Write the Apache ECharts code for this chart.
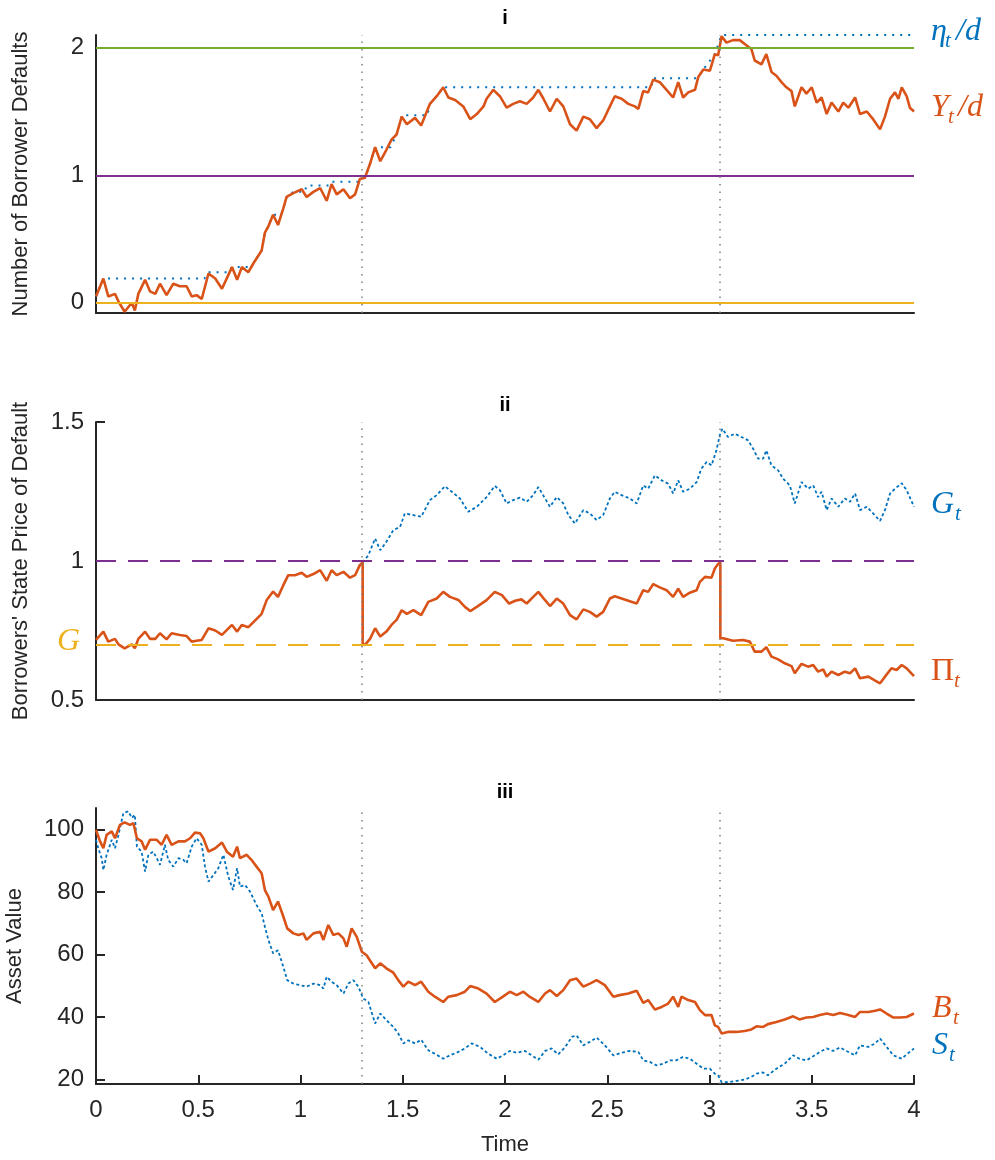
<!DOCTYPE html>
<html>
<head>
<meta charset="utf-8">
<title>Defaults, state price and asset value</title>
<script src="https://cdn.jsdelivr.net/npm/echarts@6.0.0/dist/echarts.min.js"></script>
<style>
  html, body { margin: 0; padding: 0; background: #fff; }
  #container { width: 995px; height: 1160px; }
</style>
</head>
<body>
<div id="container"></div>
<script>
// ---- paths, as [time, value] ----
// panel i : Y_t/d and its running max eta_t/d
const yPath = [[0,0.05],[0.036,0.19],[0.06,0.05],[0.093,0.07],[0.11,0.01],[0.14,-0.07],[0.175,0],[0.19,-0.06],[0.207,0.07],[0.24,0.18],[0.264,0.09],[0.29,0.07],[0.313,0.15],[0.345,0.06],[0.378,0.15],[0.41,0.13],[0.443,0.13],[0.468,0.05],[0.492,0.06],[0.517,0.03],[0.55,0.23],[0.583,0.19],[0.616,0.11],[0.665,0.28],[0.69,0.18],[0.713,0.28],[0.745,0.24],[0.77,0.31],[0.81,0.41],[0.826,0.55],[0.843,0.60],[0.866,0.69],[0.89,0.61],[0.916,0.74],[0.932,0.83],[0.965,0.86],[1.006,0.89],[1.03,0.83],[1.063,0.87],[1.096,0.90],[1.128,0.80],[1.152,0.93],[1.177,0.85],[1.21,0.89],[1.242,0.82],[1.267,0.85],[1.29,0.97],[1.315,0.98],[1.34,1.09],[1.365,1.22],[1.39,1.11],[1.42,1.20],[1.445,1.28],[1.47,1.32],[1.495,1.46],[1.52,1.40],[1.56,1.45],[1.59,1.39],[1.633,1.56],[1.666,1.62],[1.698,1.69],[1.723,1.61],[1.756,1.59],[1.796,1.54],[1.83,1.44],[1.862,1.48],[1.895,1.54],[1.91,1.60],[1.943,1.67],[1.975,1.62],[2.008,1.53],[2.04,1.56],[2.073,1.58],[2.106,1.56],[2.138,1.61],[2.163,1.67],[2.188,1.60],[2.22,1.50],[2.253,1.60],[2.285,1.54],[2.318,1.40],[2.35,1.35],[2.383,1.46],[2.415,1.44],[2.448,1.37],[2.48,1.43],[2.513,1.54],[2.537,1.62],[2.57,1.60],[2.603,1.56],[2.635,1.54],[2.652,1.52],[2.676,1.66],[2.7,1.65],[2.725,1.75],[2.757,1.73],[2.79,1.67],[2.822,1.61],[2.847,1.73],[2.871,1.61],[2.896,1.65],[2.929,1.67],[2.945,1.77],[2.97,1.83],[3.002,1.82],[3.026,1.95],[3.042,1.94],[3.059,2.09],[3.083,2.04],[3.115,2.06],[3.148,2.06],[3.18,2.02],[3.205,1.99],[3.221,1.90],[3.254,1.87],[3.278,1.95],[3.303,1.81],[3.327,1.78],[3.352,1.73],[3.376,1.69],[3.401,1.66],[3.417,1.54],[3.45,1.69],[3.474,1.64],[3.5,1.69],[3.524,1.57],[3.548,1.61],[3.573,1.48],[3.597,1.57],[3.63,1.50],[3.654,1.57],[3.679,1.53],[3.712,1.61],[3.736,1.48],[3.769,1.50],[3.8,1.44],[3.834,1.36],[3.858,1.46],[3.883,1.60],[3.907,1.65],[3.924,1.60],[3.94,1.69],[3.964,1.62],[3.98,1.53],[4,1.50]];
const etaPath = [[0,0.05],[0.036,0.19],[0.53,0.19],[0.55,0.24],[0.65,0.24],[0.665,0.28],[0.76,0.28],[0.77,0.31],[0.81,0.41],[0.826,0.55],[0.843,0.60],[0.866,0.69],[0.905,0.69],[0.916,0.74],[0.932,0.83],[0.965,0.87],[1.02,0.87],[1.03,0.92],[1.14,0.92],[1.152,0.95],[1.28,0.95],[1.29,0.97],[1.315,0.98],[1.34,1.09],[1.365,1.22],[1.44,1.22],[1.47,1.32],[1.495,1.47],[1.62,1.47],[1.633,1.56],[1.666,1.62],[1.698,1.69],[2.715,1.69],[2.725,1.76],[2.94,1.76],[2.97,1.83],[3.026,1.95],[3.059,2.1],[4,2.1]];

// panel ii : Pi_t and G_t
const piPath = [[0,0.716],[0.036,0.746],[0.06,0.71],[0.093,0.72],[0.11,0.70],[0.14,0.686],[0.175,0.70],[0.19,0.686],[0.207,0.72],[0.24,0.746],[0.264,0.72],[0.29,0.72],[0.313,0.74],[0.345,0.718],[0.37,0.74],[0.41,0.734],[0.443,0.73],[0.468,0.71],[0.492,0.713],[0.517,0.716],[0.55,0.758],[0.583,0.75],[0.616,0.734],[0.665,0.77],[0.69,0.746],[0.713,0.77],[0.745,0.762],[0.77,0.78],[0.81,0.81],[0.835,0.86],[0.866,0.89],[0.89,0.871],[0.916,0.913],[0.94,0.949],[0.973,0.949],[1.006,0.958],[1.03,0.943],[1.063,0.953],[1.096,0.967],[1.128,0.929],[1.152,0.967],[1.177,0.949],[1.21,0.961],[1.242,0.94],[1.267,0.949],[1.29,0.985],[1.304,0.995],[1.304,0.70],[1.315,0.698],[1.34,0.72],[1.365,0.758],[1.39,0.728],[1.42,0.746],[1.445,0.77],[1.47,0.788],[1.495,0.823],[1.52,0.81],[1.552,0.823],[1.59,0.805],[1.625,0.853],[1.666,0.865],[1.698,0.889],[1.731,0.871],[1.772,0.86],[1.804,0.835],[1.83,0.82],[1.862,0.835],[1.91,0.859],[1.95,0.889],[1.985,0.877],[2.02,0.847],[2.05,0.857],[2.08,0.862],[2.106,0.847],[2.138,0.871],[2.163,0.889],[2.196,0.859],[2.22,0.838],[2.253,0.865],[2.285,0.847],[2.318,0.805],[2.35,0.79],[2.383,0.826],[2.415,0.817],[2.448,0.80],[2.48,0.817],[2.513,0.865],[2.537,0.873],[2.57,0.865],[2.603,0.857],[2.644,0.847],[2.676,0.895],[2.7,0.889],[2.725,0.917],[2.757,0.905],[2.79,0.895],[2.822,0.871],[2.847,0.90],[2.871,0.871],[2.904,0.886],[2.937,0.895],[2.953,0.925],[2.978,0.943],[3.01,0.94],[3.026,0.973],[3.042,0.989],[3.053,0.995],[3.053,0.722],[3.067,0.722],[3.115,0.713],[3.164,0.716],[3.197,0.71],[3.221,0.674],[3.254,0.674],[3.278,0.69],[3.303,0.656],[3.336,0.646],[3.368,0.632],[3.401,0.622],[3.417,0.596],[3.45,0.63],[3.482,0.62],[3.507,0.626],[3.531,0.602],[3.556,0.61],[3.573,0.584],[3.597,0.602],[3.63,0.59],[3.662,0.602],[3.687,0.596],[3.712,0.614],[3.736,0.578],[3.777,0.584],[3.81,0.57],[3.834,0.56],[3.858,0.584],[3.89,0.614],[3.915,0.608],[3.94,0.626],[3.964,0.614],[4,0.586]];
const gPath = [[1.304,0.995],[1.332,1.021],[1.365,1.081],[1.39,1.039],[1.42,1.069],[1.454,1.111],[1.487,1.123],[1.51,1.171],[1.552,1.165],[1.59,1.159],[1.633,1.219],[1.666,1.237],[1.706,1.269],[1.74,1.249],[1.78,1.225],[1.82,1.177],[1.862,1.195],[1.91,1.23],[1.95,1.27],[1.975,1.255],[2.008,1.207],[2.04,1.219],[2.073,1.228],[2.106,1.213],[2.138,1.237],[2.163,1.266],[2.196,1.225],[2.22,1.195],[2.253,1.23],[2.285,1.207],[2.31,1.165],[2.342,1.135],[2.383,1.183],[2.415,1.171],[2.448,1.147],[2.48,1.165],[2.513,1.225],[2.537,1.249],[2.57,1.237],[2.61,1.225],[2.644,1.207],[2.676,1.272],[2.7,1.26],[2.733,1.308],[2.766,1.29],[2.798,1.278],[2.822,1.243],[2.847,1.29],[2.871,1.249],[2.904,1.26],[2.937,1.284],[2.96,1.332],[2.986,1.356],[3.01,1.344],[3.034,1.398],[3.05,1.452],[3.063,1.476],[3.09,1.446],[3.124,1.458],[3.156,1.446],[3.189,1.434],[3.213,1.404],[3.238,1.368],[3.262,1.368],[3.278,1.398],[3.303,1.344],[3.336,1.326],[3.36,1.296],[3.393,1.272],[3.417,1.207],[3.45,1.284],[3.482,1.26],[3.507,1.272],[3.531,1.23],[3.548,1.249],[3.573,1.183],[3.597,1.225],[3.63,1.195],[3.662,1.225],[3.687,1.213],[3.712,1.243],[3.736,1.183],[3.769,1.195],[3.8,1.171],[3.834,1.144],[3.858,1.183],[3.883,1.243],[3.907,1.26],[3.94,1.28],[3.964,1.255],[4,1.195]];

// panel iii : B_t and S_t
const bPath = [[0,100],[0.02,96.3],[0.036,94.1],[0.052,98.4],[0.077,99.5],[0.093,97.3],[0.117,101.6],[0.14,102.4],[0.166,101.6],[0.183,102.1],[0.2,97.3],[0.223,96.3],[0.24,93.6],[0.264,96.8],[0.297,96.8],[0.321,95.2],[0.345,98.4],[0.37,95.2],[0.403,96.3],[0.435,96.3],[0.46,97.3],[0.484,99.1],[0.509,98.9],[0.525,97.3],[0.55,93.0],[0.583,94.1],[0.616,95.9],[0.64,93.0],[0.67,91.4],[0.69,94.6],[0.704,90.9],[0.737,92.0],[0.76,90.4],[0.785,88.2],[0.81,86.1],[0.826,80.7],[0.843,78.6],[0.866,74.3],[0.89,77.0],[0.916,72.2],[0.935,68.4],[0.965,66.8],[0.99,66.3],[1.014,66.8],[1.03,64.7],[1.063,66.8],[1.096,67.3],[1.112,64.7],[1.136,69.5],[1.16,66.3],[1.185,66.8],[1.21,65.2],[1.226,62.5],[1.25,68.4],[1.275,65.7],[1.3,60.9],[1.323,59.8],[1.365,55.6],[1.39,57.2],[1.42,55.6],[1.454,54.2],[1.478,51.8],[1.503,49.7],[1.527,51.3],[1.56,50.2],[1.59,51.3],[1.625,48.1],[1.657,46.5],[1.698,44.8],[1.723,46.5],[1.764,47.0],[1.804,48.1],[1.83,49.9],[1.87,49.1],[1.91,47.5],[1.95,44.8],[1.99,46.5],[2.024,48.1],[2.057,47.0],[2.09,48.1],[2.12,46.5],[2.163,44.8],[2.196,47.5],[2.22,48.6],[2.253,46.7],[2.285,48.6],[2.318,51.8],[2.35,52.3],[2.383,49.7],[2.415,50.7],[2.448,51.8],[2.488,50.2],[2.53,46.5],[2.56,47.0],[2.603,47.5],[2.644,48.4],[2.676,44.5],[2.7,45.4],[2.733,42.4],[2.766,43.2],[2.798,44.3],[2.822,46.5],[2.847,43.2],[2.863,46.5],[2.896,45.4],[2.929,44.8],[2.953,42.2],[2.978,40.6],[3.01,40.6],[3.026,37.3],[3.042,36.8],[3.059,34.7],[3.09,35.2],[3.132,35.2],[3.172,35.5],[3.205,36.0],[3.23,37.0],[3.262,36.8],[3.286,37.7],[3.327,38.4],[3.368,39.2],[3.409,40.2],[3.44,39.2],[3.474,39.8],[3.507,40.0],[3.54,40.6],[3.573,41.1],[3.605,40.6],[3.638,41.3],[3.67,40.8],[3.712,40.0],[3.736,41.6],[3.777,41.6],[3.81,42.0],[3.834,42.4],[3.866,41.1],[3.899,39.8],[3.932,39.8],[3.964,40.0],[4,41.1]];
const sPath = [[0,96.8],[0.011,94.1],[0.028,90.9],[0.036,87.1],[0.052,92.0],[0.077,96.8],[0.093,94.1],[0.11,98.4],[0.134,105.4],[0.158,105.9],[0.175,103.8],[0.19,104.8],[0.2,94.6],[0.223,93.0],[0.24,86.6],[0.256,92.0],[0.28,93.0],[0.297,90.9],[0.313,88.8],[0.337,95.2],[0.353,90.4],[0.378,88.2],[0.403,90.9],[0.427,90.4],[0.443,89.3],[0.468,94.6],[0.492,97.3],[0.517,95.2],[0.533,88.2],[0.55,83.4],[0.574,85.5],[0.598,87.7],[0.623,92.0],[0.647,85.0],[0.67,80.7],[0.69,87.7],[0.704,81.8],[0.729,82.3],[0.753,80.2],[0.785,75.9],[0.81,73.2],[0.826,68.9],[0.843,64.7],[0.866,60.4],[0.89,61.4],[0.916,56.1],[0.935,51.8],[0.965,50.7],[0.998,50.2],[1.03,49.7],[1.063,50.7],[1.096,50.2],[1.112,49.1],[1.128,52.9],[1.152,51.3],[1.177,50.2],[1.21,47.5],[1.234,50.7],[1.258,51.8],[1.283,49.7],[1.307,45.9],[1.332,44.8],[1.365,37.9],[1.39,41.1],[1.42,39.0],[1.454,36.8],[1.478,34.7],[1.503,31.5],[1.527,32.5],[1.56,31.5],[1.59,32.7],[1.625,29.3],[1.657,28.2],[1.698,26.6],[1.731,27.7],[1.772,28.8],[1.804,29.9],[1.837,31.5],[1.878,30.4],[1.918,28.2],[1.96,26.6],[1.99,27.7],[2.024,29.1],[2.057,28.5],[2.098,29.1],[2.13,27.7],[2.163,26.3],[2.196,29.1],[2.228,29.9],[2.26,28.0],[2.295,30.4],[2.327,33.6],[2.35,34.1],[2.383,30.9],[2.415,32.0],[2.448,33.4],[2.488,30.9],[2.53,27.7],[2.57,28.5],[2.61,29.1],[2.652,28.8],[2.676,26.1],[2.708,25.6],[2.74,24.5],[2.774,25.0],[2.806,26.1],[2.838,26.1],[2.871,27.2],[2.904,26.6],[2.937,25.0],[2.97,23.4],[3.002,23.4],[3.026,21.8],[3.042,21.3],[3.059,19.1],[3.09,19.1],[3.132,19.5],[3.172,19.9],[3.205,20.8],[3.23,21.8],[3.262,22.2],[3.286,21.3],[3.327,23.4],[3.368,25.0],[3.409,27.7],[3.44,26.6],[3.474,26.1],[3.507,27.4],[3.54,28.8],[3.573,29.9],[3.605,29.1],[3.638,30.2],[3.67,29.1],[3.712,27.7],[3.736,30.9],[3.777,30.4],[3.81,31.5],[3.834,33.1],[3.866,30.4],[3.899,27.7],[3.94,26.6],[3.964,28.0],[4,29.9]];

// default times (vertical dotted lines) and reference levels
const defaultTimes = [1.304, 3.053];
const levelsI = [0, 1, 2];       // solid lines in panel i
const levelG = 0.7;              // G, dashed in panel ii
const levelOne = 1;              // dashed in panel ii
const ticksI = [0, 1, 2];
const ticksIII = [20, 40, 60, 80, 100];

const blue = '#0072BD', orange = '#D95319', yellow = '#EDB120',
      purple = '#7E2F8E', green = '#77AC30', grey = '#7f7f7f', ink = '#262626';
const sans = 'Liberation Sans, Arial, sans-serif';
const serif = 'Liberation Serif, Times New Roman, serif';

const dom = document.getElementById('container');
const myChart = echarts.init(dom, null, { renderer: 'canvas' });

function xAx(i, labels) {
  return {
    type: 'value', gridIndex: i, min: 0, max: 4, interval: 0.5,
    name: labels ? 'Time' : '', nameLocation: 'middle', nameGap: 50,
    nameTextStyle: { fontSize: 22, color: ink, fontFamily: sans },
    axisLine: { show: true, onZero: false, lineStyle: { color: ink, width: 2 } },
    axisTick: { show: labels, inside: true, length: 9, lineStyle: { color: ink, width: 2 } },
    axisLabel: { show: labels, fontSize: 24, color: ink, fontFamily: sans, margin: 14 },
    splitLine: { show: false }
  };
}

function yAx(i, o) {
  return Object.assign({
    type: 'value', gridIndex: i, nameLocation: 'middle', nameGap: 64,
    nameTextStyle: { fontSize: 22, color: ink, fontFamily: sans },
    axisLine: { show: true, onZero: false, lineStyle: { color: ink, width: 2 } },
    axisTick: { show: true, inside: true, length: 9, lineStyle: { color: ink, width: 2 } },
    axisLabel: { fontSize: 24, color: ink, fontFamily: sans, margin: 12, padding: [5, 0, 0, 0] },
    splitLine: { show: false }
  }, o);
}

function path(name, data, gi, color, dash, width) {
  return {
    name: name, type: 'line', xAxisIndex: gi, yAxisIndex: gi, data: data,
    symbol: 'none', silent: true, emphasis: { disabled: true },
    lineStyle: { color: color, width: width || 2.6, type: dash || 'solid' }
  };
}

function refs(gi, lines) {
  return {
    type: 'line', xAxisIndex: gi, yAxisIndex: gi, data: [], silent: true,
    markLine: { silent: true, symbol: ['none', 'none'], label: { show: false },
      emphasis: { disabled: true }, animation: false, data: lines }
  };
}

const vLines = defaultTimes.map(t => ({ xAxis: t, lineStyle: { color: grey, width: 1.5, type: [1.5, 6] } }));
const lvlColors = [yellow, purple, green];

// math-style labels on the right
function mathLabel(x, y, main, subX, tail, tailX, color, italic) {
  const els = [
    { type: 'text', x: x, y: y, style: { text: main, fill: color, fontSize: 32, fontFamily: serif,
        fontStyle: italic ? 'italic' : 'normal', align: 'left', verticalAlign: 'middle' } },
    { type: 'text', x: subX, y: y + 9, style: { text: 't', fill: color, fontSize: 21, fontFamily: serif,
        fontStyle: 'italic', align: 'left', verticalAlign: 'middle' } }
  ];
  if (tail) {
    els.push({ type: 'text', x: tailX, y: y, style: { text: tail, fill: color, fontSize: 32,
      fontFamily: serif, fontStyle: 'italic', align: 'left', verticalAlign: 'middle' } });
  }
  return els;
}

function panelTitle(text, y) {
  return { type: 'text', x: 505, y: y, style: { text: text, fill: '#000', fontSize: 20, fontWeight: 'bold',
    fontFamily: sans, align: 'center', verticalAlign: 'middle' } };
}

const option = {
  animation: false,
  backgroundColor: '#fff',
  grid: [
    { left: 96, top: 35, width: 818, height: 278, containLabel: false, outerBoundsMode: 'none' },
    { left: 96, top: 422, width: 818, height: 278, containLabel: false, outerBoundsMode: 'none' },
    { left: 96, top: 808, width: 818, height: 276, containLabel: false, outerBoundsMode: 'none' }
  ],
  xAxis: [xAx(0, false), xAx(1, false), xAx(2, true)],
  yAxis: [
    yAx(0, { name: 'Number of Borrower Defaults', min: -0.08, max: 2.1,
      axisLabel: { fontSize: 24, color: ink, fontFamily: sans, margin: 12, padding: [5, 0, 0, 0], customValues: ticksI },
      axisTick: { show: true, inside: true, length: 9, lineStyle: { color: ink, width: 2 }, customValues: ticksI } }),
    yAx(1, { name: "Borrowers' State Price of Default", min: 0.5, max: 1.5, interval: 0.5 }),
    yAx(2, { name: 'Asset Value', nameGap: 70, min: 18.5, max: 107,
      axisLabel: { fontSize: 24, color: ink, fontFamily: sans, margin: 12, padding: [5, 0, 0, 0], customValues: ticksIII },
      axisTick: { show: true, inside: true, length: 9, lineStyle: { color: ink, width: 2 }, customValues: ticksIII } })
  ],
  series: [
    path('eta_t/d', etaPath, 0, blue, [2, 6], 2),
    path('Y_t/d', yPath, 0, orange),
    refs(0, levelsI.map((v, k) => ({ yAxis: v, lineStyle: { color: lvlColors[k], width: 2, type: 'solid' } })).concat(vLines)),

    path('G_t', gPath, 1, blue, [3, 2.5], 1.8),
    path('Pi_t', piPath, 1, orange),
    refs(1, [
      { yAxis: levelOne, lineStyle: { color: purple, width: 2, type: [20, 12] } },
      { yAxis: levelG, lineStyle: { color: yellow, width: 2, type: [20, 12] } }
    ].concat(vLines)),

    path('S_t', sPath, 2, blue, [3, 2.5], 1.8),
    path('B_t', bPath, 2, orange),
    refs(2, vLines)
  ],
  graphic: [
    panelTitle('i', 18),
    panelTitle('ii', 405),
    panelTitle('iii', 792),
    { type: 'text', x: 80, y: 642, style: { text: 'G', fill: yellow, fontSize: 32, fontFamily: serif,
        fontStyle: 'italic', align: 'right', verticalAlign: 'middle' } }
  ].concat(
    mathLabel(931, 32, 'η', 945, '/d', 956, blue, true),
    mathLabel(931, 108, 'Y', 948, '/d', 958, orange, true),
    mathLabel(931, 505, 'G', 955, null, 0, blue, true),
    mathLabel(931, 672, 'Π', 954, null, 0, orange, false),
    mathLabel(932, 1009, 'B', 953, null, 0, orange, true),
    mathLabel(932, 1046, 'S', 949, null, 0, blue, true)
  )
};

if (option && typeof option === 'object') {
  myChart.setOption(option);
}

window.addEventListener('resize', myChart.resize);
</script>
</body>
</html>
